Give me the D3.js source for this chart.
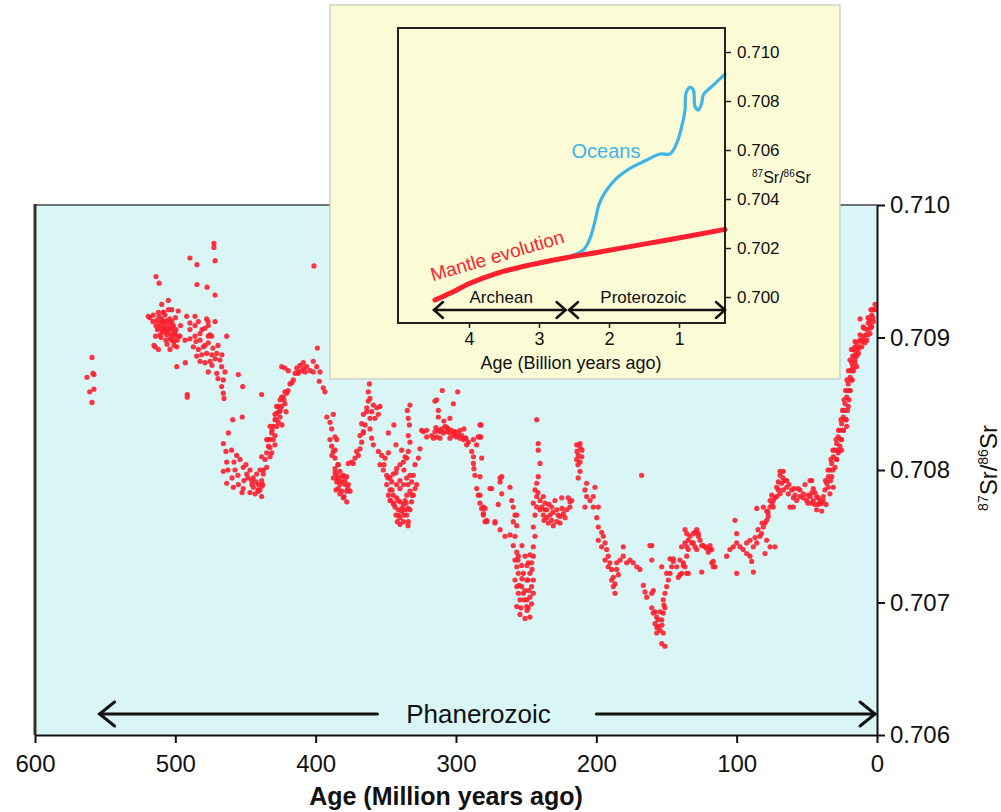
<!DOCTYPE html>
<html><head><meta charset="utf-8">
<script src="https://cdn.jsdelivr.net/npm/d3@7"></script>
<style>
body{margin:0;background:#fff}
svg{display:block;font-family:"Liberation Sans",Arial,Helvetica,sans-serif}
</style></head>
<body><svg id="c" width="1001" height="812"></svg>
<script>
// ---------- DATA (age in Ma, 87Sr/86Sr) ----------
const ageTicks = [600, 500, 400, 300, 200, 100, 0];
const ratioTicks = [0.706, 0.707, 0.708, 0.709, 0.710];

const cambrianOrdovician = [
[559.4,0.70885],[558.7,0.70873],[563,0.70870],[558,0.70872],[561,0.70859],[558,0.70861],[559.4,0.70851],
[472.5,0.70971],[472.5,0.70968],[489.6,0.70960],[484.6,0.70955],[471.7,0.70958],[513.8,0.70946],[511.6,0.70941],[484.6,0.70940],[477.4,0.70938],[471.7,0.70932],[401.2,0.70954],
[519.3,0.70916],[515.7,0.70917],[512.1,0.70919],[509.7,0.70925],[505.0,0.70928],[502.6,0.70921],[497.9,0.70920],[513.3,0.70913],[509.7,0.70914],[507.4,0.70917],[505.7,0.70913],[503.8,0.70914],[510.9,0.70911],[508.6,0.70909],[506.2,0.70909],[503.8,0.70911],[501.4,0.70909],[509.7,0.70906],[507.4,0.70906],[505.0,0.70906],[502.6,0.70906],[500.2,0.70904],[506.2,0.70902],[503.4,0.70902],[500.8,0.70901],[498.6,0.70898],[510.9,0.70902],[515.2,0.70894],[512.1,0.70891],[503.8,0.70891],[499.0,0.70878],[492.9,0.70881],[491.5,0.70857],[491.5,0.70855],[514.4,0.70893],[507.4,0.70912],[508.6,0.70919],
[511.4,0.70908],[509.0,0.70904],[501.9,0.70908],[506.7,0.70898],[502.4,0.70898],[499.0,0.70893],[500.9,0.70894],
[518.1,0.70915],[516.0,0.70912],[513.8,0.70909],[511.6,0.70916],[509.5,0.70912],[508.1,0.70907],[505.9,0.70904],[503.8,0.70907],[502.4,0.70912],[501.0,0.70903],[499.5,0.70906],[498.1,0.70901],[510.2,0.70900],[505.9,0.70895],[503.7,0.70899],[501.0,0.70897],[512.8,0.70906],[508.5,0.70919],[504.9,0.70921],[499.9,0.70915],[496.3,0.70909],[514.1,0.70901],
[491.9,0.70916],[486.0,0.70916],[489.6,0.70911],[483.6,0.70912],[477.7,0.70914],[471.7,0.70912],[496.7,0.70901],[493.1,0.70898],[489.6,0.70899],[486.0,0.70901],[482.4,0.70903],[478.9,0.70907],[476.5,0.70909],[487.2,0.70893],[483.6,0.70891],[480.1,0.70893],[476.5,0.70896],[474.1,0.70901],[484.8,0.70886],[481.2,0.70887],[477.7,0.70888],[474.1,0.70887],[470.5,0.70888],[478.9,0.70881],[475.3,0.70882],[471.7,0.70884],[468.2,0.70883],[476.5,0.70874],[470.5,0.70873],[467.0,0.70878],[465.8,0.70868],[467.0,0.70863],[465.8,0.70858],[463.4,0.70901],[455.1,0.70872],[452.0,0.70863],[476.5,0.70901],[482.4,0.70898],
[489.6,0.70906],[485.3,0.70897],[481.0,0.70906],[478.9,0.70894],[475.3,0.70902],[473.2,0.70892],[469.6,0.70894],[466.8,0.70887],[482.4,0.70882],[473.9,0.70879],[464.6,0.70874],[469.6,0.70869],[465.3,0.70854],[486.0,0.70909],[476.7,0.70912]
];

const silurianDevonian = [
[465.8,0.70820],[462.2,0.70828],[459.9,0.70815],[456.3,0.70811],[453.9,0.70808],[463.4,0.70806],[457.5,0.70800],[451.6,0.70802],[449.1,0.70797],[465.8,0.70799],[463.4,0.70790],[458.7,0.70787],[455.1,0.70789],[451.6,0.70786],[446.8,0.70800],[445.6,0.70792],[444.4,0.70787],[440.9,0.70789],[439.7,0.70785],[438.5,0.70780],[443.2,0.70782],[438.5,0.70792],[437.3,0.70800],[436.1,0.70808],[434.9,0.70813],[433.7,0.70818],[432.5,0.70823],[431.3,0.70828],[430.2,0.70833],[429.0,0.70838],[427.8,0.70843],[426.6,0.70848],[425.4,0.70853],[423.1,0.70855],[421.9,0.70859],[425.4,0.70840],[427.8,0.70833],[430.2,0.70823],[432.5,0.70810],[434.9,0.70802],[437.3,0.70797],[431.3,0.70813],[429.0,0.70819],[424.2,0.70848],[421.9,0.70850],[420.7,0.70858],[418.3,0.70865],[415.9,0.70868],[414.7,0.70873],[413.5,0.70877],[411.2,0.70879],[408.8,0.70881],[406.4,0.70878],[404.0,0.70875],[401.7,0.70874],[399.3,0.70878],[396.9,0.70874],[410.0,0.70875],[412.4,0.70873],[407.6,0.70874],[401.7,0.70882],[398.8,0.70892],[397.4,0.70867],[424.2,0.70878],[421.9,0.70877],[419.5,0.70875],[438.5,0.70857],[459.1,0.70838],[452.3,0.70840],[427.8,0.70848],[425.9,0.70844],[429.0,0.70842],[426.6,0.70836],[424.2,0.70855],[432.5,0.70833],[434.9,0.70823],[438.5,0.70810],[439.7,0.70800],[442.1,0.70797],[437.8,0.70789],[440.9,0.70784],[444.4,0.70794],
[462.5,0.70800],[459.6,0.70794],[455.4,0.70796],[451.1,0.70792],[448.2,0.70794],[445.4,0.70789],[442.5,0.70791],[441.1,0.70785],[438.2,0.70788],[463.9,0.70814],[458.2,0.70806],[449.7,0.70804],[446.8,0.70783],[452.5,0.70783],
[434.0,0.70823],[431.1,0.70830],[428.3,0.70838],[425.4,0.70845],[422.6,0.70853],[419.7,0.70860],[416.9,0.70866],[432.5,0.70817],[429.0,0.70826],[424.0,0.70834],[421.1,0.70844],[412.6,0.70874],[408.3,0.70877],
[394.6,0.70862],[393.4,0.70859],[392.1,0.70840],[387.4,0.70842],[389.8,0.70836],[388.6,0.70831],[386.2,0.70825],[385.0,0.70823],[388.6,0.70818],[387.4,0.70814],[386.2,0.70809],[383.9,0.70804],[385.0,0.70796],[387.4,0.70794],[382.7,0.70799],[380.3,0.70796],[377.9,0.70795],[381.5,0.70791],[379.1,0.70789],[383.9,0.70786],[381.5,0.70784],[376.7,0.70789],[377.9,0.70784],[380.3,0.70779],[377.9,0.70776],[375.5,0.70784],[385.0,0.70791],[386.2,0.70801],[383.9,0.70794],[382.7,0.70789],[386.2,0.70815],
[386.2,0.70798],[384.1,0.70792],[381.2,0.70795],[385.5,0.70785],[382.7,0.70782],[379.1,0.70792],[379.8,0.70780],[384.1,0.70804],[388.4,0.70811],[389.8,0.70823],[377.0,0.70786],
[374.3,0.70806],[372.0,0.70809],[369.6,0.70811],[368.4,0.70816],[367.2,0.70821],[368.4,0.70826],[366.0,0.70828],[364.8,0.70834],[366.0,0.70842],[367.2,0.70835],[363.6,0.70847],[362.5,0.70852],[361.3,0.70854],[362.5,0.70859],[361.7,0.70865],[358.9,0.70849],[356.5,0.70847],[354.2,0.70848],[355.3,0.70842],[357.7,0.70839],[360.1,0.70844],[361.3,0.70831],[360.1,0.70824],[358.9,0.70819],[363.6,0.70844],[361.3,0.70839],[370.8,0.70814],[373.2,0.70805],[376.7,0.70805],[366.0,0.70829]
];

const carboniferousPermian = [
[355.3,0.70814],[352.9,0.70811],[350.6,0.70809],[348.2,0.70813],[354.2,0.70804],[351.8,0.70800],[349.4,0.70796],[347.0,0.70794],[344.7,0.70797],[342.3,0.70801],[339.9,0.70804],[337.5,0.70806],[335.1,0.70809],[334.0,0.70814],[332.8,0.70821],[334.0,0.70826],[333.2,0.70834],[334.0,0.70839],[334.7,0.70845],[332.8,0.70849],[344.2,0.70834],[348.2,0.70828],[342.8,0.70819],[338.7,0.70815],[336.3,0.70810],[349.4,0.70789],[347.0,0.70785],[344.7,0.70781],[342.3,0.70779],[339.9,0.70776],[337.5,0.70774],[338.7,0.70769],[341.1,0.70766],[339.9,0.70764],[337.5,0.70761],[335.1,0.70766],[334.0,0.70771],[331.6,0.70776],[330.4,0.70781],[329.2,0.70786],[331.6,0.70791],[332.8,0.70796],[335.1,0.70794],[337.5,0.70789],[339.9,0.70786],[342.3,0.70789],[345.8,0.70791],[348.2,0.70781],[344.7,0.70775],[335.1,0.70781],[336.3,0.70777],[332.8,0.70784],[328.0,0.70789],[325.7,0.70816],[326.8,0.70809],[329.2,0.70804],[324.5,0.70830],[320.9,0.70830],[343.5,0.70772],[341.1,0.70770],[336.3,0.70770],[346.5,0.70777],[334.0,0.70761],[341.8,0.70761],[330.4,0.70796],
[347.0,0.70777],[344.2,0.70774],[341.3,0.70777],[338.5,0.70771],[335.6,0.70775],[332.8,0.70770],[342.8,0.70766],[337.1,0.70766],[339.9,0.70759],[334.2,0.70758],[345.6,0.70785],[339.9,0.70792],[334.2,0.70789],[331.4,0.70781],[348.5,0.70794],[342.8,0.70798],[337.1,0.70800],[351.3,0.70804],
[317.3,0.70826],[315.0,0.70829],[312.6,0.70830],[310.2,0.70831],[307.8,0.70833],[305.5,0.70831],[303.1,0.70830],[300.7,0.70829],[298.4,0.70828],[296.0,0.70826],[293.6,0.70824],[291.2,0.70821],[313.8,0.70825],[309.0,0.70828],[304.3,0.70828],[299.5,0.70825],[294.8,0.70823],[306.6,0.70829],[301.9,0.70826],[297.2,0.70824],[292.4,0.70819],[288.8,0.70814],[287.6,0.70810],[287.6,0.70805],[287.2,0.70801],[286.5,0.70796],[285.3,0.70786],[284.1,0.70781],[282.9,0.70775],[281.7,0.70771],[280.5,0.70766],[279.3,0.70761],[282.2,0.70834],[282.4,0.70825],[284.1,0.70825],[294.3,0.70831],[311.4,0.70824],[316.1,0.70824],[320.9,0.70825],[323.3,0.70829],[315.0,0.70852],[313.8,0.70853],[309.8,0.70860],[298.8,0.70859],[301.9,0.70850],[304.3,0.70839],[308.6,0.70837],[312.6,0.70840],[312.6,0.70845],[287.6,0.70823],[285.3,0.70819],
[311.4,0.70829],[306.4,0.70832],[301.4,0.70828],[297.2,0.70830],[292.9,0.70824],[314.3,0.70832],[304.3,0.70824],
[275.8,0.70786],[267.4,0.70795],[268.6,0.70791],[261.5,0.70787],[267.4,0.70782],[269.9,0.70774],[260.3,0.70777],[278.1,0.70761],[272.2,0.70761],[256.7,0.70766],[259.2,0.70761],[279.3,0.70771],
[282.9,0.70834],[282.9,0.70825],[281.7,0.70809],[282.9,0.70795],[282.9,0.70781],[280.5,0.70772],[280.5,0.70767],[278.1,0.70762],[272.2,0.70760],[274.6,0.70786],[268.6,0.70794],[268.6,0.70755],[265.1,0.70750],[261.5,0.70751],[259.2,0.70772],[258.0,0.70766],[256.7,0.70758],[258.0,0.70750],[259.2,0.70743],[256.7,0.70738],[255.6,0.70735],[258.0,0.70732],[256.7,0.70727],[255.6,0.70722],[258.0,0.70717],[256.7,0.70712],[255.6,0.70707],[254.4,0.70702],[256.7,0.70697],[254.4,0.70691],[250.8,0.70688],[247.3,0.70689],[248.5,0.70696],[249.6,0.70702],[247.3,0.70704],[244.9,0.70707],[246.1,0.70712],[244.9,0.70717],[247.3,0.70722],[249.6,0.70717],[253.2,0.70712],[252.0,0.70707],[252.0,0.70722],[253.2,0.70728],[250.8,0.70735],[247.3,0.70736],[246.1,0.70730],[244.9,0.70735],[248.5,0.70730],[244.9,0.70742],[243.7,0.70750],[244.9,0.70757],[243.7,0.70766],[242.5,0.70772],[244.9,0.70775],[242.5,0.70780],[243.7,0.70785],[242.5,0.70790],[241.4,0.70795],[240.1,0.70805],[241.4,0.70815],[241.4,0.70820],[242.5,0.70838],[249.6,0.70697],[246.1,0.70699],
[255.1,0.70713],[253.0,0.70718],[250.8,0.70709],[248.7,0.70717],[251.5,0.70702],[249.4,0.70694],[253.7,0.70696],[248.0,0.70709],[245.8,0.70725],[255.8,0.70732],[253.0,0.70743],[249.4,0.70728]
];

const triassicJurassic = [
[240.1,0.70777],[237.8,0.70780],[236.6,0.70775],[238.9,0.70772],[235.4,0.70770],[233.0,0.70766],[231.8,0.70762],[234.2,0.70760],[230.7,0.70758],[228.2,0.70761],[225.9,0.70765],[223.5,0.70767],[221.1,0.70770],[218.8,0.70772],[217.6,0.70777],[220.0,0.70779],[224.7,0.70779],[229.5,0.70777],[231.8,0.70772],[228.2,0.70770],[235.4,0.70764],[237.8,0.70766],[240.1,0.70770],[225.9,0.70760],[222.3,0.70764],[218.8,0.70776],
[236.6,0.70770],[233.7,0.70774],[230.9,0.70768],[227.3,0.70766],[224.5,0.70771],[241.6,0.70783],[237.3,0.70762],
[214.0,0.70808],[212.9,0.70811],[211.6,0.70806],[210.4,0.70810],[214.0,0.70819],[211.6,0.70820],[212.9,0.70794],[211.6,0.70799],[206.9,0.70790],[201.0,0.70787],[208.1,0.70785],[206.9,0.70780],[204.5,0.70777],[202.2,0.70772],[208.1,0.70772],[199.7,0.70764],[198.6,0.70757],[196.2,0.70753],[195.0,0.70750],[193.8,0.70745],[192.6,0.70740],[191.5,0.70735],[190.3,0.70730],[189.1,0.70725],[187.9,0.70719],[186.7,0.70714],[186.7,0.70707],[189.1,0.70717],[191.5,0.70727],[193.8,0.70732],[196.2,0.70742],[198.6,0.70747],[185.5,0.70730],[183.1,0.70732],[180.8,0.70735],[178.4,0.70730],[176.0,0.70732],[173.7,0.70730],[171.2,0.70727],[168.9,0.70725],[180.8,0.70742],[185.5,0.70725],[184.3,0.70721],[187.9,0.70712],[198.6,0.70772],[202.2,0.70780],[167.7,0.70796],
[213.8,0.70814],[211.6,0.70817],[213.1,0.70804],[210.2,0.70815],
[166.5,0.70713],[165.3,0.70708],[164.1,0.70704],[160.5,0.70707],[159.4,0.70709],[160.5,0.70696],[159.4,0.70692],[157.0,0.70689],[158.2,0.70684],[155.8,0.70682],[153.4,0.70687],[152.3,0.70692],[151.1,0.70696],[152.3,0.70702],[151.1,0.70707],[149.9,0.70712],[148.7,0.70717],[147.5,0.70722],[146.3,0.70727],[149.9,0.70722],[153.4,0.70727],[152.3,0.70677],[153.4,0.70669],[151.1,0.70667],[154.6,0.70679],[157.0,0.70677],[160.5,0.70732],[160.5,0.70743],[147.5,0.70733],[145.2,0.70733],[140.4,0.70732],[138.0,0.70730],[140.4,0.70721],[135.6,0.70722],[142.7,0.70727],[139.2,0.70742],[136.8,0.70755],[134.5,0.70747],[132.0,0.70745],[129.7,0.70753],[127.3,0.70752],[126.1,0.70747],[124.9,0.70743],[122.6,0.70742],[119.0,0.70743],[117.8,0.70740],[120.2,0.70738],[117.8,0.70730],[116.7,0.70727],[124.9,0.70723],[128.5,0.70740],[130.9,0.70745],[135.6,0.70742],[133.3,0.70750],
[158.2,0.70693],[156.1,0.70687],[154.6,0.70693],[156.8,0.70681],[153.2,0.70683],[151.8,0.70698],
[161.8,0.70743],[145.2,0.70731],[138.0,0.70728],[135.6,0.70735],[136.8,0.70727],[139.2,0.70722],[141.6,0.70719],[134.5,0.70722],[130.9,0.70752],[128.5,0.70755],[127.3,0.70750],[123.8,0.70743],[121.4,0.70741],[119.0,0.70740],[116.7,0.70731],[115.4,0.70727],[129.7,0.70742],[135.6,0.70752],[136.8,0.70745],[134.5,0.70740]
];

const cretaceousCenozoic = [
[107.1,0.70735],[104.8,0.70740],[102.4,0.70742],[100.0,0.70745],[97.6,0.70742],[95.3,0.70740],[92.9,0.70737],[90.5,0.70735],[89.3,0.70731],[88.1,0.70723],[100.0,0.70722],[92.9,0.70745],[90.5,0.70747],[88.1,0.70742],[85.7,0.70745],[83.4,0.70750],[82.2,0.70752],[81.0,0.70757],[79.8,0.70760],[78.6,0.70762],[77.5,0.70765],[78.6,0.70747],[76.2,0.70742],[79.8,0.70737],[72.7,0.70742],[85.7,0.70771],[81.0,0.70772],[78.6,0.70769],[76.2,0.70772],[101.2,0.70762],[100.0,0.70752],
[77.7,0.70768],[74.8,0.70774],[72.7,0.70779],[81.9,0.70760],[84.8,0.70755],[86.9,0.70749],
[73.9,0.70777],[71.5,0.70780],[69.1,0.70782],[66.8,0.70785],[64.3,0.70787],[65.6,0.70792],[67.9,0.70790],[70.3,0.70785],[63.2,0.70782],[60.8,0.70785],[58.4,0.70781],[62.0,0.70772],[59.6,0.70779],[57.2,0.70777],[54.9,0.70780],[52.5,0.70779],[50.1,0.70777],[47.7,0.70780],[45.4,0.70777],[43.0,0.70780],[40.6,0.70777],[39.4,0.70775],[41.8,0.70774],[44.2,0.70774],[46.5,0.70775],[49.0,0.70781],[52.5,0.70782],[59.6,0.70772],[64.3,0.70792],[66.8,0.70799],[69.1,0.70796],[70.3,0.70791],[75.0,0.70781],[76.2,0.70777],[73.9,0.70772],[71.5,0.70787],[46.5,0.70792],[45.4,0.70786],[69.1,0.70799],[47.7,0.70792],[40.6,0.70775],[43.0,0.70770],[39.4,0.70769],
[54.9,0.70785],[51.3,0.70789],[46.3,0.70783],[42.0,0.70779],[38.5,0.70777],[36.3,0.70774],[56.3,0.70786],[49.2,0.70775],[44.2,0.70783],[62.7,0.70789],[59.1,0.70786],[67.0,0.70794],
[38.3,0.70780],[37.1,0.70785],[35.8,0.70790],[34.7,0.70795],[33.5,0.70800],[32.3,0.70805],[31.1,0.70810],[29.9,0.70815],[28.7,0.70820],[27.6,0.70825],[26.4,0.70830],[25.2,0.70835],[24.0,0.70840],[23.5,0.70845],[22.8,0.70850],[21.6,0.70855],[21.2,0.70860],[20.5,0.70865],[19.2,0.70870],[18.7,0.70875],[18.0,0.70881],[17.3,0.70886],[16.9,0.70891],[15.7,0.70893],[14.5,0.70896],[12.1,0.70898],[9.8,0.70901],[7.3,0.70906],[6.2,0.70911],[5.0,0.70913],[3.8,0.70917],[2.6,0.70921],[1.4,0.70925],
[32.3,0.70795],[29.9,0.70802],[28.7,0.70808],[26.4,0.70818],[25.2,0.70823],[27.6,0.70813],[24.0,0.70830],[22.1,0.70838],[20.5,0.70848],[19.2,0.70860],[18.0,0.70868],[16.9,0.70875],[15.7,0.70881],[14.5,0.70886],[13.3,0.70888],[10.9,0.70893],[8.6,0.70896],[7.3,0.70898],[5.0,0.70903],[3.8,0.70908],[2.6,0.70912],[12.1,0.70914],[9.8,0.70908],[31.1,0.70787],[33.5,0.70782],[34.7,0.70787],[25.2,0.70815],[21.6,0.70833],[16.4,0.70886],[15.0,0.70889],[17.3,0.70878],[14.5,0.70878],[12.6,0.70893],[10.2,0.70898],[7.8,0.70902],[4.5,0.70909],
[36.7,0.70792],[33.1,0.70792],[34.9,0.70800],[31.4,0.70800],[32.8,0.70808],[28.9,0.70808],[31.4,0.70815],[27.8,0.70815],[29.2,0.70823],[25.7,0.70823],[27.4,0.70830],[23.9,0.70830],[25.7,0.70838],[22.1,0.70838],[24.6,0.70845],[21.0,0.70845],[23.5,0.70853],[20.0,0.70853],[22.4,0.70860],[19.2,0.70860],[21.4,0.70868],[17.8,0.70868],[20.3,0.70875],[17.1,0.70875],[19.2,0.70883],[15.7,0.70883],[18.2,0.70891],[13.5,0.70891],[15.7,0.70897],[10.7,0.70897],[12.1,0.70902],[6.4,0.70902],[9.3,0.70907],[5.0,0.70907],[6.4,0.70915],[2.9,0.70915],[4.3,0.70921],[1.4,0.70921]
];

// Inset: Precambrian evolution (age in Ga)
const insetAgeTicks = [4, 3, 2, 1];
const insetRatioTicks = [0.700, 0.702, 0.704, 0.706, 0.708, 0.710];
const mantleCurve = [[4.486,0.69988],[4.271,0.70015],[3.986,0.70056],[3.604,0.70097],[3.129,0.70131],[2.653,0.70158],[2.176,0.70182],[1.224,0.70230],[0.343,0.70276]];
const oceanCurve = [[2.653,0.70158],[2.367,0.70192],[2.270,0.70240],[2.200,0.70310],[2.140,0.70380],[2.050,0.70430],[1.890,0.70485],[1.700,0.70525],[1.461,0.70559],[1.271,0.70584],[1.129,0.70584],[1.033,0.70627],[0.962,0.70695],[0.914,0.70763],[0.900,0.70832],[0.843,0.70856],[0.795,0.70845],[0.771,0.70777],[0.724,0.70763],[0.676,0.70791],[0.652,0.70825],[0.510,0.70865],[0.343,0.70910]];
const eonNames = ["Archean", "Proterozoic"];
const eonSpans = [[4.5, 2.62], [2.57, 0.343]];
const eonLabelAges = [3.54, 1.51];

// ---------- DRAW ----------
const svg = d3.select("#c");
const RED = "#ff1f2e", BLUE = "#3fb4e6";

const x = d3.scaleLinear().domain([600, 0]).range([35, 877]);
const y = d3.scaleLinear().domain([0.706, 0.710]).range([735, 205]);

svg.append("rect").attr("x", 35).attr("y", 205).attr("width", 842).attr("height", 530).attr("fill", "#d9f5f6");
svg.append("line").attr("x1", 35).attr("x2", 877).attr("y1", 205).attr("y2", 205).attr("stroke", "#444").attr("stroke-width", 1.5);
svg.append("line").attr("x1", 35).attr("x2", 35).attr("y1", 204).attr("y2", 735).attr("stroke", "#333").attr("stroke-width", 3);

const allPts = [].concat(cambrianOrdovician, silurianDevonian, carboniferousPermian, triassicJurassic, cretaceousCenozoic);
svg.append("g").selectAll("circle").data(allPts).join("circle")
  .attr("cx", d => x(d[0])).attr("cy", d => y(d[1])).attr("r", 2.6)
  .attr("fill", RED).attr("fill-opacity", 0.9);

// Phanerozoic arrow
const phanY = 714;
const pa = svg.append("g").attr("stroke", "#111").attr("stroke-width", 3).attr("fill", "none").attr("stroke-linecap", "round");
pa.append("line").attr("x1", x(554)).attr("x2", x(356)).attr("y1", phanY).attr("y2", phanY);
pa.append("line").attr("x1", x(200)).attr("x2", x(1.4)).attr("y1", phanY).attr("y2", phanY);
pa.append("path").attr("d", `M${x(554)+15},${phanY-12} L${x(554)},${phanY} L${x(554)+15},${phanY+12}`);
pa.append("path").attr("d", `M${x(1.4)-15},${phanY-12} L${x(1.4)},${phanY} L${x(1.4)-15},${phanY+12}`);
svg.append("text").attr("x", x(284)).attr("y", 723).attr("text-anchor", "middle")
  .attr("font-size", 26).attr("fill", "#111").text("Phanerozoic");

// Axes
const xa = svg.append("g").attr("transform", "translate(0,735)")
  .call(d3.axisBottom(x).tickValues(ageTicks).tickFormat(d3.format("d")).tickSize(8).tickSizeOuter(0));
xa.selectAll("text").attr("y", 37).attr("dy", 0).attr("font-size", 24).attr("fill", "#111").style("font-family", "inherit");
const ya = svg.append("g").attr("transform", "translate(877,0)")
  .call(d3.axisRight(y).tickValues(ratioTicks).tickFormat(d3.format(".3f")).tickSize(8).tickSizeOuter(0));
ya.selectAll("text").attr("x", 13).attr("font-size", 24).attr("fill", "#111").style("font-family", "inherit");
[xa, ya].forEach(a => { a.select(".domain").attr("stroke", "#111").attr("stroke-width", 2); a.selectAll(".tick line").attr("stroke", "#111").attr("stroke-width", 2); });

svg.append("text").attr("x", 446).attr("y", 805).attr("text-anchor", "middle")
  .attr("font-size", 25).attr("font-weight", "bold").attr("fill", "#111").text("Age (Million years ago)");

const yt = svg.append("text").attr("transform", "translate(997,468) rotate(-90)").attr("text-anchor", "middle")
  .attr("font-size", 24).attr("fill", "#111");
yt.append("tspan").attr("font-size", 14).attr("dy", -9).text("87");
yt.append("tspan").attr("dy", 9).text("Sr/");
yt.append("tspan").attr("font-size", 14).attr("dy", -9).text("86");
yt.append("tspan").attr("dy", 9).text("Sr");

// ---------- INSET ----------
const ins = svg.append("g");
ins.append("rect").attr("x", 330).attr("y", 5).attr("width", 510).attr("height", 374)
  .attr("fill", "#fbfbd6").attr("stroke", "#c8c8c0").attr("stroke-width", 1.2);

const ix = d3.scaleLinear().domain([5.014, 0.343]).range([398, 725]);
const iy = d3.scaleLinear().domain([0.69894, 0.71098]).range([323, 28]);

const line = d3.line().x(d => ix(d[0])).y(d => iy(d[1])).curve(d3.curveCatmullRom.alpha(0.5));
ins.append("path").datum(oceanCurve).attr("d", line).attr("fill", "none").attr("stroke", BLUE).attr("stroke-width", 3.2).attr("stroke-linecap", "round");
ins.append("path").datum(mantleCurve).attr("d", line).attr("fill", "none").attr("stroke", RED).attr("stroke-width", 5).attr("stroke-linecap", "round");

ins.append("rect").attr("x", 398).attr("y", 28).attr("width", 327).attr("height", 295)
  .attr("fill", "none").attr("stroke", "#222").attr("stroke-width", 2);

const ixa = ins.append("g").attr("transform", "translate(0,323)")
  .call(d3.axisBottom(ix).tickValues(insetAgeTicks).tickFormat(d3.format("d")).tickSize(5).tickSizeOuter(0));
ixa.selectAll("text").attr("y", 22).attr("dy", 0).attr("font-size", 18).attr("fill", "#111").style("font-family", "inherit");
const iya = ins.append("g").attr("transform", "translate(725,0)")
  .call(d3.axisRight(iy).tickValues(insetRatioTicks).tickFormat(d3.format(".3f")).tickSize(6).tickSizeOuter(0));
iya.selectAll("text").attr("x", 12).attr("font-size", 17).attr("fill", "#111").style("font-family", "inherit");
[ixa, iya].forEach(a => { a.select(".domain").remove(); a.selectAll(".tick line").attr("stroke", "#222").attr("stroke-width", 1.5); });

ins.append("text").attr("x", 571).attr("y", 369).attr("text-anchor", "middle").attr("font-size", 18).attr("fill", "#111").text("Age (Billion years ago)");
const it = ins.append("text").attr("x", 752).attr("y", 183).attr("font-size", 16).attr("fill", "#111");
it.append("tspan").attr("font-size", 10).attr("dy", -6).text("87");
it.append("tspan").attr("dy", 6).text("Sr/");
it.append("tspan").attr("font-size", 10).attr("dy", -6).text("86");
it.append("tspan").attr("dy", 6).text("Sr");

ins.append("text").attr("x", 606).attr("y", 158).attr("text-anchor", "middle").attr("font-size", 20).attr("fill", BLUE).text("Oceans");
ins.append("text").attr("transform", "translate(499,262) rotate(-16.4)").attr("text-anchor", "middle")
  .attr("font-size", 19).attr("fill", RED).text("Mantle evolution");

// eon arrows
const arrowY = 310;
const eg = ins.append("g").attr("stroke", "#111").attr("stroke-width", 2.5).attr("fill", "none").attr("stroke-linecap", "round");
eonSpans.forEach(s => {
  const a = ix(s[0]), b = ix(s[1]);
  eg.append("line").attr("x1", a).attr("x2", b).attr("y1", arrowY).attr("y2", arrowY);
  eg.append("path").attr("d", `M${a+9},${arrowY-8} L${a},${arrowY} L${a+9},${arrowY+8}`);
  eg.append("path").attr("d", `M${b-9},${arrowY-8} L${b},${arrowY} L${b-9},${arrowY+8}`);
});
eonNames.forEach((n, i) => {
  ins.append("text").attr("x", ix(eonLabelAges[i])).attr("y", 303).attr("text-anchor", "middle")
    .attr("font-size", 17).attr("fill", "#111").text(n);
});
</script></body></html>
